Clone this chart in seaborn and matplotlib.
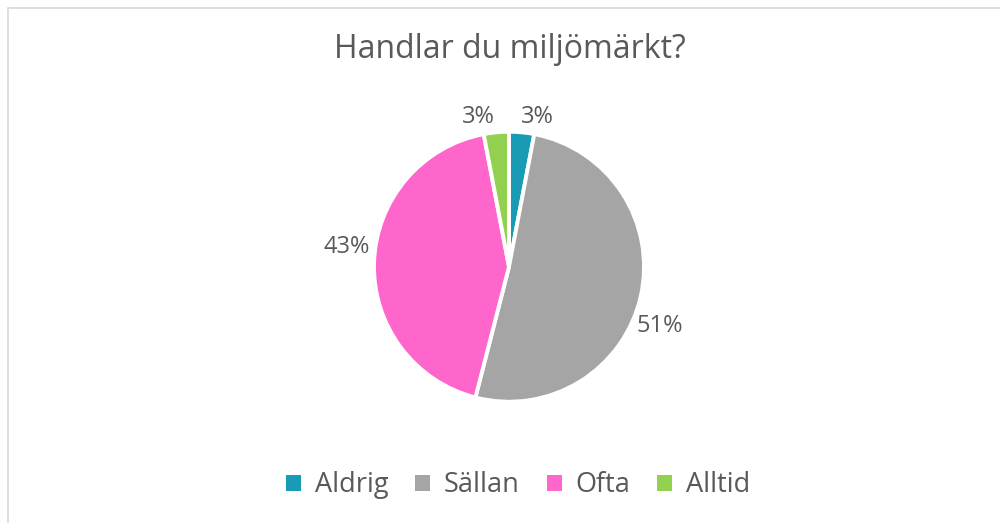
import matplotlib
matplotlib.use("Agg")
import numpy as np
import matplotlib.pyplot as plt
import seaborn as sns
from matplotlib.patches import Rectangle, Patch

# survey answers (percent of respondents)
categories = ["Aldrig", "Sällan", "Ofta", "Alltid"]
shares = [3, 51, 43, 3]
colors = ["#189BB5", "#A5A5A5", "#FF66CC", "#92D050"]

sns.set_theme(style="white")
plt.rcParams["font.family"] = ["Open Sans", "DejaVu Sans"]
text_color = "#595959"

fig = plt.figure(figsize=(10, 5.23), dpi=100)

# light frame round the chart area
fig.patches.append(Rectangle((0.008, -0.05), 1.05, 1.035, transform=fig.transFigure,
                             fill=False, edgecolor="#D9D9D9", linewidth=1.2))

ax = fig.add_axes([0.374, 0.231, 0.27, 0.518])
wedges, texts, autotexts = ax.pie(
    shares, colors=colors, startangle=90, counterclock=False,
    autopct="%1.0f%%", pctdistance=1.2, radius=1,
    wedgeprops=dict(edgecolor="white", linewidth=2.8),
    textprops=dict(color=text_color, fontsize=17))

# excel-style "best fit" placement: nudge labels round the rim a bit
nudge = [-5.5, -9, -5, 6]
dist = [1.13, 1.2, 1.21, 1.13]
for w, t, dn, r in zip(wedges, autotexts, nudge, dist):
    ang = np.deg2rad((w.theta1 + w.theta2) / 2 + dn)
    t.set_position((r * np.cos(ang), r * np.sin(ang)))

ax.set_xlim(-1, 1)
ax.set_ylim(-1, 1)
ax.set_aspect("equal")
ax.axis("off")

fig.text(0.510, 0.905, "Handlar du miljömärkt?", ha="center", va="center",
         fontsize=23, color=text_color)

handles = [Patch(facecolor=c, edgecolor="none") for c in colors]
fig.legend(handles, categories, loc="center", bbox_to_anchor=(0.518, 0.072), ncol=4,
           frameon=False, fontsize=19.5, labelcolor=text_color, handlelength=0.55,
           handleheight=0.55, handletextpad=0.5, columnspacing=1.0)

fig.savefig("out.png", dpi=100)
